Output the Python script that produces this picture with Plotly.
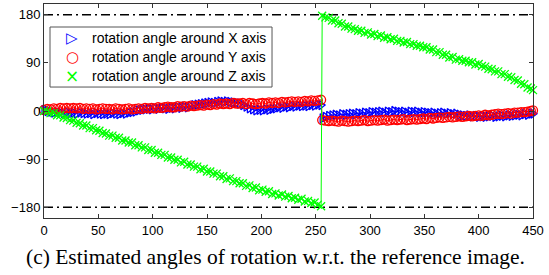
import plotly.graph_objects as go

# frame indices (x axis)
frames = list(range(0, 256, 3)) + list(range(256, 450, 3)) + [450]

# rotation angle around X axis (degrees)
rot_x = [
    2, 0, -1, -3, -2, -3, -4, -2, -4, -3,
    -5, -3, -4, -5, -4, -6, -4, -5, -6, -5,
    -6, -4, -5, -6, -4, -5, -3, -2, -1, 1,
    2, 3, 4, 3, 5, 4, 6, 5, 4, 6,
    5, 7, 6, 8, 7, 9, 11, 12, 13, 14,
    15, 16, 15, 17, 18, 17, 18, 17, 16, 15,
    14, 11, 8, 5, 3, 1, 2, 1, 3, 2,
    4, 5, 7, 6, 8, 7, 9, 8, 10, 9,
    10, 9, 11, 10, 12, 11,
    -14, -11, -9, -8, -7, -8, -6, -7, -6, -5,
    -6, -4, -5, -3, -4, -2, -3, -2, -1, -3,
    -1, -2, 0, -1, -2, -1, -3, -1, -2, -1,
    -3, -2, -3, -4, -3, -5, -4, -3, -5, -4,
    -6, -5, -7, -8, -9, -8, -10, -9, -11, -10,
    -11, -10, -9, -11, -10, -9, -10, -8, -9, -8,
    -7, -8, -6, -7, -5, -5,
]

# rotation angle around Y axis (degrees)
rot_y = [
    2, 4, 3, 5, 4, 6, 5, 6, 5, 6,
    5, 6, 4, 5, 4, 5, 3, 4, 5, 4,
    4, 3, 5, 4, 3, 4, 5, 3, 4, 5,
    4, 6, 5, 6, 5, 7, 6, 7, 8, 7,
    7, 9, 8, 9, 8, 10, 9, 10, 11, 10,
    12, 11, 13, 12, 14, 13, 14, 13, 15, 14,
    14, 15, 13, 15, 14, 13, 14, 15, 14, 16,
    15, 16, 15, 17, 16, 17, 18, 17, 18, 17,
    19, 18, 20, 19, 20, 21,
    -17, -18, -19, -18, -19, -20, -18, -19, -20, -19,
    -18, -19, -18, -17, -19, -18, -17, -18, -17, -16,
    -18, -17, -16, -17, -16, -15, -17, -16, -15, -16,
    -15, -14, -15, -13, -14, -13, -12, -13, -12, -11,
    -12, -11, -10, -11, -10, -9, -10, -9, -8, -9,
    -7, -8, -7, -6, -5, -6, -5, -4, -5, -3,
    -3, -2, -2, -1, 0, 1,
]

# rotation angle around Z axis (degrees)
rot_z = [
    0, -1, -4, -4, -8, -8, -12, -13, -17, -18,
    -22, -23, -27, -27, -32, -32, -36, -37, -41, -42,
    -46, -46, -50, -50, -55, -55, -59, -59, -64, -64,
    -68, -68, -73, -73, -78, -78, -82, -82, -87, -87,
    -91, -91, -96, -95, -100, -100, -104, -104, -109, -108,
    -113, -113, -117, -117, -122, -122, -127, -126, -131, -131,
    -135, -135, -140, -139, -144, -143, -148, -147, -151, -150,
    -155, -154, -158, -156, -160, -159, -163, -162, -166, -164,
    -169, -168, -172, -171, -175, -178,
    178, 175, 174, 169, 169, 164, 163, 158, 158, 154,
    153, 150, 150, 146, 147, 143, 144, 140, 141, 137,
    138, 134, 135, 131, 131, 128, 129, 125, 125, 122,
    122, 119, 119, 115, 115, 110, 110, 105, 105, 100,
    101, 96, 97, 94, 94, 91, 91, 87, 88, 84,
    83, 79, 78, 74, 74, 69, 69, 64, 63, 58,
    57, 51, 50, 44, 42, 39,
]

assert len(frames) == len(rot_x) == len(rot_y) == len(rot_z), (len(frames), len(rot_x), len(rot_y), len(rot_z))

series_names = ["rotation angle around X axis", "rotation angle around Y axis", "rotation angle around Z axis"]
legend_glyphs = ["\u25B7", "\u25CB", "\u00D7"]
y_ticks = [-180, -90, 0, 90, 180]
x_ticks = list(range(0, 451, 50))
bounds = [-180, 180]
caption = "(c) Estimated angles of rotation w.r.t. the reference image."

fig = go.Figure()

styles = [
    (rot_x, "#0000ff", "triangle-right-open", 8),
    (rot_y, "#ff0000", "circle-open", 9),
    (rot_z, "#00ff00", "x-thin-open", 8),
]

for (vals, col, sym, size), name in zip(styles, series_names):
    fig.add_trace(go.Scatter(
        x=frames, y=vals, mode="lines+markers", name=name, showlegend=False, cliponaxis=False,
        line=dict(color=col, width=1),
        marker=dict(symbol=sym, size=size, color=col, line=dict(color=col, width=1.3)),
    ))

for b in bounds:
    fig.add_shape(type="line", xref="x", yref="y", x0=0, x1=450, y0=b, y1=b,
                  line=dict(color="black", width=1.5, dash="9px,4px,2px,4px"), layer="below")

# legend box (paper coordinates)
fig.add_shape(type="rect", xref="paper", yref="paper", x0=0.0123, x1=0.4663, y0=0.612, y1=0.8925,
              line=dict(color="#555555", width=1), fillcolor="white", layer="above")
legend_rows = [0.8411, 0.7523, 0.6636]
glyph_sizes = [15, 15, 17]
for (vals, col, sym, size), name, glyph, gs, yr in zip(styles, series_names, legend_glyphs, glyph_sizes, legend_rows):
    fig.add_annotation(text=glyph, xref="paper", yref="paper", x=0.0573, y=yr,
                       xanchor="center", yanchor="middle", showarrow=False,
                       font=dict(family="DejaVu Sans", size=gs, color=col))
    fig.add_annotation(text=name, xref="paper", yref="paper", x=0.0941, y=yr,
                       xanchor="left", yanchor="middle", showarrow=False,
                       font=dict(family="Liberation Sans", size=14, color="black"))

axis_common = dict(showline=True, linecolor="#333333", linewidth=1, mirror="ticks",
                   ticks="inside", ticklen=4, tickcolor="#333333", showgrid=False,
                   zeroline=False, tickfont=dict(family="Liberation Sans", size=13, color="black"))

fig.update_xaxes(range=[0, 450], tickvals=x_ticks, **axis_common)
fig.update_yaxes(range=[-200, 200], tickvals=y_ticks, **axis_common)

fig.add_annotation(text=caption, xref="paper", yref="paper", x=0.473, y=-0.182,
                   xanchor="center", yanchor="middle", showarrow=False,
                   font=dict(family="Liberation Serif", size=21.5, color="black"))

fig.update_layout(
    width=549, height=275,
    margin=dict(l=44, r=16, t=4, b=57),
    plot_bgcolor="white", paper_bgcolor="white",
    showlegend=False,
)

fig.write_html("out.html", config={"displayModeBar": False},
               post_script="document.body.style.margin='0px';document.documentElement.style.margin='0px';")
